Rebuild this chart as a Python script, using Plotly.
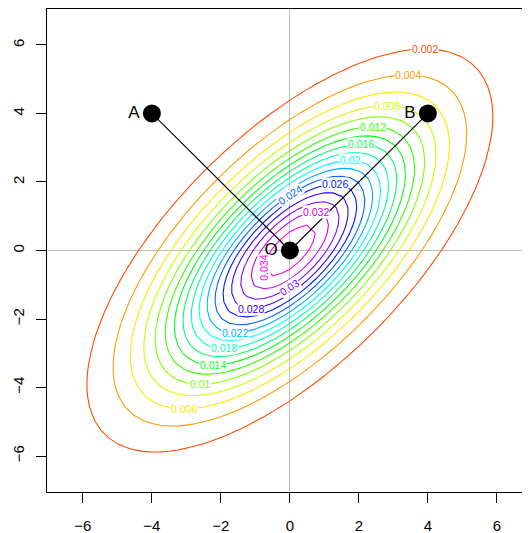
import numpy as np
import plotly.graph_objects as go

# --- data ---
mean_xy = [0.0, 0.0]
cov = [[6.0, 4.0], [4.0, 6.0]]
levels = [0.002, 0.004, 0.006, 0.008, 0.010, 0.012, 0.014, 0.016, 0.018,
          0.020, 0.022, 0.024, 0.026, 0.028, 0.030, 0.032, 0.034]
level_labels = ["0.002", "0.004", "0.006", "0.008", "0.01", "0.012", "0.014", "0.016",
                "0.018", "0.02", "0.022", "0.024", "0.026", "0.028", "0.03", "0.032", "0.034"]
level_colors = ["#FF4D00", "#FF9900", "#FFE500", "#CCFF00", "#80FF00", "#33FF00",
                "#00FF19", "#00FF66", "#00FFB2", "#00FFFF", "#00B3FF", "#0066FF",
                "#001AFF", "#3300FF", "#7F00FF", "#CC00FF", "#FF00E6"]
point_names = ["A", "B", "O"]
point_x = [-4, 4, 0]
point_y = [4, 4, 0]
tick_vals = [-6, -4, -2, 0, 2, 4, 6]
tick_text = ["\u22126", "\u22124", "\u22122", "0", "2", "4", "6"]

# where on each contour its label sits (style choice, like R's label placement)
label_side = ["top", "top", "bottom", "top", "bottom", "top", "bottom", "top", "bottom",
              "top", "bottom", "x0top", "top", "bottom", "x0bottom", "top", "left"]

# --- density grid (coarse, like the original) ---
gx = np.arange(-7.0, 7.0001, 0.25)
gy = np.arange(-7.0, 7.0001, 0.25)
S = np.array(cov)
Si = np.linalg.inv(S)
det = np.linalg.det(S)
peak = 1.0 / (2 * np.pi * np.sqrt(det))
X, Y = np.meshgrid(gx - mean_xy[0], gy - mean_xy[1])
Q = Si[0, 0] * X**2 + 2 * Si[0, 1] * X * Y + Si[1, 1] * Y**2
Z = peak * np.exp(-Q / 2)

n = len(levels)
cscale = [[i / (n - 1), c] for i, c in enumerate(level_colors)]

FONT = "Liberation Sans, Arial, sans-serif"

fig = go.Figure()
fig.add_trace(go.Contour(
    x=gx, y=gy, z=Z,
    contours=dict(start=levels[0], end=levels[-1], size=levels[1] - levels[0],
                  coloring="lines", showlabels=False),
    colorscale=cscale, showscale=False,
    line=dict(width=1.1, smoothing=0),
    hoverinfo="skip",
))

# segments A-O and B-O
o = point_names.index("O")
for nm in ["A", "B"]:
    i = point_names.index(nm)
    fig.add_trace(go.Scatter(x=[point_x[i], point_x[o]], y=[point_y[i], point_y[o]],
                             mode="lines", line=dict(color="black", width=1.1),
                             showlegend=False, hoverinfo="skip"))

fig.add_trace(go.Scatter(
    x=point_x, y=point_y, mode="markers+text", text=point_names,
    textposition="middle left",
    textfont=dict(size=17, color="black", family=FONT),
    marker=dict(size=18, color="black"),
    showlegend=False, hoverinfo="skip"))

# contour labels placed on the analytic contour of each level
annotations = []
for lev, lab, col, side in zip(levels, level_labels, level_colors, label_side):
    q = 2 * np.log(peak / lev)
    if side == "top":
        px, py = S[0, 1] * np.sqrt(q / S[1, 1]), S[1, 1] * np.sqrt(q / S[1, 1])
    elif side == "bottom":
        px, py = -S[0, 1] * np.sqrt(q / S[1, 1]), -S[1, 1] * np.sqrt(q / S[1, 1])
    elif side == "left":
        px, py = -S[0, 0] * np.sqrt(q / S[0, 0]), -S[1, 0] * np.sqrt(q / S[0, 0])
    elif side == "x0top":
        px, py = 0.0, np.sqrt(q / Si[1, 1])
    else:
        px, py = 0.0, -np.sqrt(q / Si[1, 1])
    gxv = Si[0, 0] * px + Si[0, 1] * py
    gyv = Si[0, 1] * px + Si[1, 1] * py
    ang = np.degrees(np.arctan2(gxv, -gyv))  # tangent direction
    if ang > 90:
        ang -= 180
    if ang < -90:
        ang += 180
    annotations.append(dict(
        x=px + mean_xy[0], y=py + mean_xy[1], xref="x", yref="y", text=lab,
        showarrow=False, textangle=-ang, bgcolor="white", borderpad=0,
        font=dict(size=10.5, color=col, family=FONT)))

axis_common = dict(
    tickvals=tick_vals, ticktext=tick_text, ticks="outside", ticklen=10,
    tickcolor="black", tickwidth=1, showgrid=False, automargin=False,
    zeroline=True, zerolinecolor="#BEBEBE", zerolinewidth=1,
    showline=True, linecolor="black", linewidth=1,
    tickfont=dict(size=15, color="black", family=FONT),
)

# the page body adds an 8px offset, so the figure is sized to fit the window
fig.update_layout(
    width=522, height=525,
    margin=dict(l=39, r=0, t=1, b=41),
    paper_bgcolor="white", plot_bgcolor="white",
    showlegend=False,
    annotations=annotations,
    xaxis=dict(range=[-7.04, 6.96], mirror=True, ticklabelstandoff=10, **axis_common),
    yaxis=dict(range=[-7.05, 7.05], tickangle=-90, ticklabelstandoff=6, **axis_common),
)

fig.write_html("out.html")
